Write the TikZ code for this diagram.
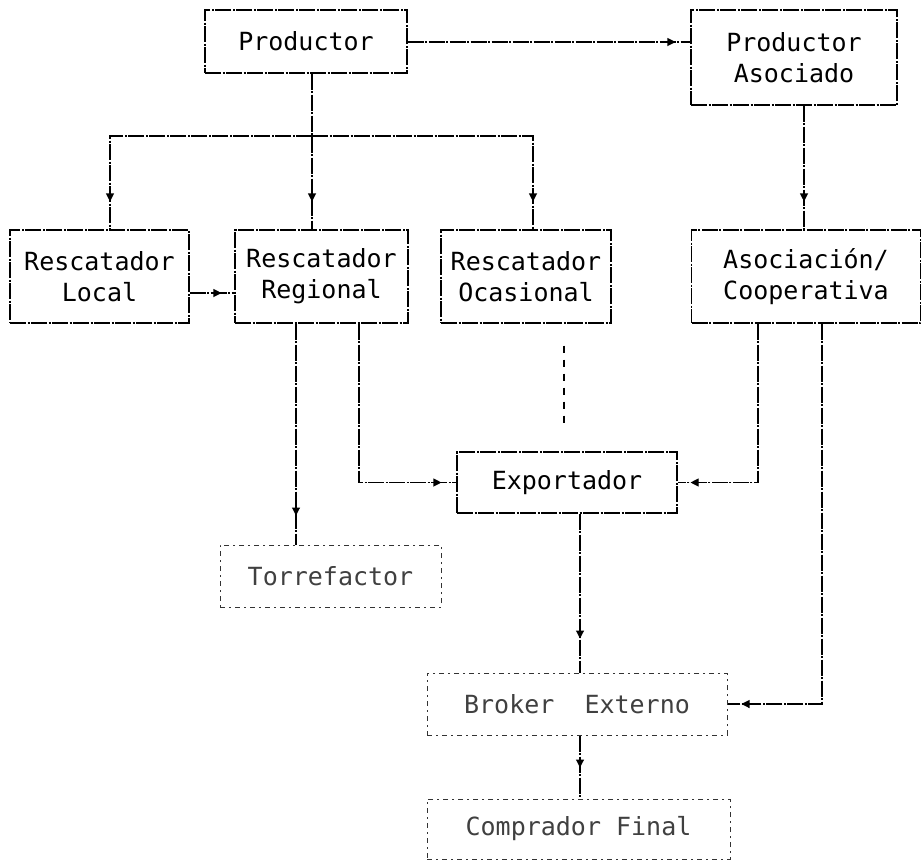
\documentclass[tikz,border=0pt]{standalone}
\usepackage{fontspec}
\setmonofont{DejaVu Sans Mono}
\usetikzlibrary{arrows.meta,decorations.markings}
\tikzset{
  txt/.style={font=\ttfamily\fontsize{25}{31}\selectfont, align=center, inner sep=0pt},
  box/.style={txt, draw=black, line width=1.1pt, dash pattern=on 16pt off 1.5pt on 2pt off 1.5pt},
  fbox/.style={txt, draw=black!80, text=black!75, line width=1pt, dash pattern=on 5pt off 4pt on 2pt off 4pt},
  conn/.style={draw=black, line width=1.1pt, dash pattern=on 16pt off 1.5pt on 2pt off 1.5pt},
  dsh/.style={draw=black, line width=1.3pt, dash pattern=on 7pt off 7pt},
  arr/.style={postaction={decorate, decoration={markings,
      mark=at position -#1 with {\arrow{Triangle[length=8pt,width=8pt]}}}}},
  arr/.default=28pt
}
\begin{document}
\begin{tikzpicture}[x=1pt,y=-1pt]
\useasboundingbox (0,0) rectangle (923,863);
\fill[white] (0,0) rectangle (923,863);

% boxes
\node[box, minimum width=202pt, minimum height=63pt] (prod) at (306,41.5) {Productor};
\node[box, minimum width=206pt, minimum height=95pt] (pa) at (794,57.5) {Productor\\Asociado};
\node[box, minimum width=179pt, minimum height=93pt] (loc) at (99.5,276.5) {Rescatador\\Local};
\node[box, minimum width=173pt, minimum height=93pt] (reg) at (321.5,276.5) {Rescatador\\Regional};
\node[box, minimum width=170pt, minimum height=93pt] (oca) at (526,276.5) {Rescatador\\Ocasional};
\node[box, minimum width=229pt, minimum height=93pt] (aso) at (806,276.5) {Asociación/\\Cooperativa};
\node[box, minimum width=220pt, minimum height=61pt] (exp) at (567,482.5) {Exportador};
\node[fbox, minimum width=221pt, minimum height=62pt] (tor) at (330.5,576) {Torrefactor};
\node[fbox, minimum width=300pt, minimum height=62pt] (bro) at (577,704) {Broker~~Externo};
\node[fbox, minimum width=303pt, minimum height=60pt] (com) at (578.5,829) {Comprador Final};

% junction / alignment coordinates
\coordinate (xa) at (312,136);
\coordinate (xl) at (110,136);
\coordinate (xo) at (533,136);
\coordinate (yp) at (0,42);
\coordinate (ylr) at (0,293);
\coordinate (xpa) at (804,0);
\coordinate (xrt) at (296,0);
\coordinate (xre) at (359,0);
\coordinate (xoe) at (564,0);
\coordinate (xae) at (758,0);
\coordinate (xab) at (822,0);
\coordinate (xeb) at (580,0);

% connectors
\draw[conn, arr=15pt] (prod.east |- yp) -- (pa.west |- yp);
\draw[conn, arr] (prod.south -| xa) -- (reg.north -| xa);
\draw[conn, arr] (xa) -- (xl) -- (loc.north -| xl);
\draw[conn, arr] (xa) -- (xo) -- (oca.north -| xo);
\draw[conn, arr=13pt] (loc.east |- ylr) -- (reg.west |- ylr);
\draw[conn, arr] (pa.south -| xpa) -- (aso.north -| xpa);
\draw[conn, arr=29pt] (reg.south -| xrt) -- (tor.north -| xrt);
\draw[conn, arr=15pt] (reg.south -| xre) |- (exp.west);
\draw[dsh, shorten <=22pt, shorten >=22pt] (oca.south -| xoe) -- (exp.north -| xoe);
\draw[conn, arr=13pt] (aso.south -| xae) |- (exp.east);
\draw[conn, arr=14pt] (aso.south -| xab) |- (bro.east);
\draw[conn, arr=34pt] (exp.south -| xeb) -- (bro.north -| xeb);
\draw[conn, arr=31pt] (bro.south -| xeb) -- (com.north -| xeb);
\end{tikzpicture}
\end{document}
